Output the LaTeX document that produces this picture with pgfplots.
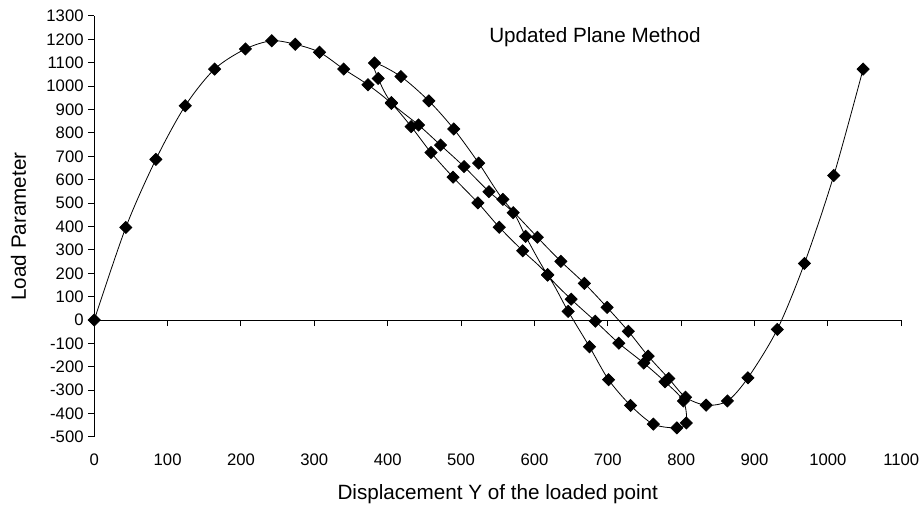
\documentclass[border=0pt]{standalone}
\usepackage{fontspec}
\setmainfont{Liberation Sans}
\usepackage{pgfplots}
\pgfplotsset{compat=1.18}

\pgfplotsset{
  chartframe/.style={
    at={(0,0)}, anchor=south west,
    width=605.25pt, height=315.75pt, scale only axis,
    xmin=0, xmax=1100, ymin=-500, ymax=1300,
    xtick={0,100,...,1100},
    scaled ticks=false,
    /pgf/number format/1000 sep={},
    /pgf/number format/assume math mode=true,
    tick style={black, line width=0.75pt},
  },
}

\begin{document}
\begin{tikzpicture}
\path[use as bounding box] (-70.7pt,-54pt) rectangle (619.3pt,327.75pt);

% tick labels along the bottom and the axis titles
\begin{axis}[
  chartframe,
  hide y axis,
  axis x line*=bottom,
  x axis line style={draw=none},
  major tick length=0pt,
  xticklabel style={font=\fontsize{12.5}{15}\selectfont, anchor=center, yshift=-17.25pt},
  xlabel={Displacement Y of the loaded point},
  xlabel style={font=\fontsize{15.5}{18}\selectfont, at={(axis description cs:0.5,0)}, anchor=base, yshift=-47.25pt},
]
\end{axis}

\begin{axis}[
  chartframe,
  clip=false,
  axis x line=middle,
  axis y line=left,
  axis line style={-, line width=0.75pt},
  every inner x axis line/.append style={-},
  every outer y axis line/.append style={-},
  xticklabels={},
  ytick={-500,-400,...,1300},
  tick align=outside,
  major tick length=4.5pt,
  yticklabel style={font=\fontsize{12.5}{15}\selectfont},
  ylabel={Load Parameter},
  ylabel style={font=\fontsize{15.5}{18}\selectfont, at={(axis description cs:-0.0846,0.5)}, anchor=base},
]
\addplot[black, line width=0.6pt, smooth,
  mark=square*, mark size=3.2pt, mark options={rotate=45, solid, fill=black}]
  table {
x y
0 0
43 396
84 687
124 916
164 1073
206 1159
242 1194
274 1179
307 1145
340 1073
373 1006
405 926
432 827
459 716
489 611
523 501
552 397
584 296
618 192
646 37
675 -114
701 -255
731 -365
762 -445
794 -461
807 -440
803 -346
778 -264
749 -184
715 -99
683 -5
650 89
618 194
588 358
571 459
538 549
504 656
472 748
442 834
405 930
387 1033
382 1099
418 1041
456 937
490 817
524 671
557 516
604 354
636 251
668 157
699 54
728 -48
755 -154
783 -250
806 -330
834 -364
863 -346
891 -247
931 -40
968 242
1008 618
1048 1073
};
\node[anchor=base, font=\fontsize{15.5}{18}\selectfont] at (axis cs:682.5,1185) {Updated Plane Method};
\end{axis}
\end{tikzpicture}
\end{document}
